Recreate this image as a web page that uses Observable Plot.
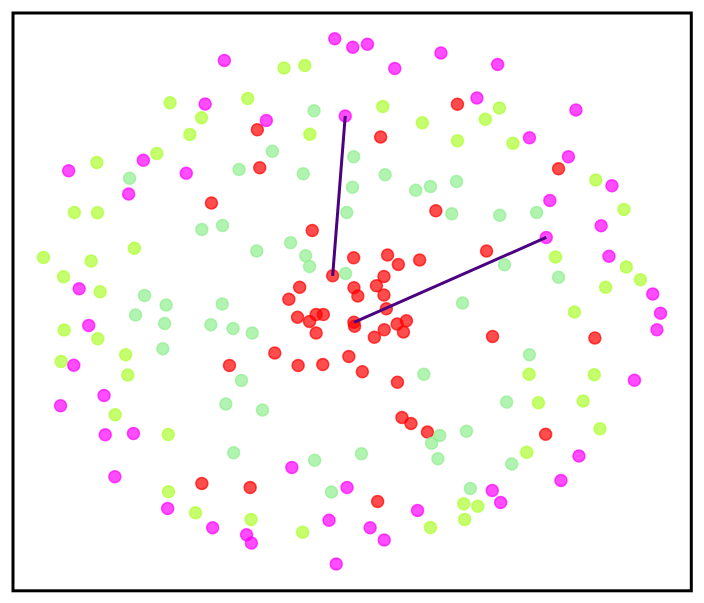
<!DOCTYPE html>
<html>
<head>
<meta charset="utf-8">
<script src="https://cdn.jsdelivr.net/npm/d3@7"></script>
<script src="https://cdn.jsdelivr.net/npm/@observablehq/plot@0.6"></script>
<style>
  html, body { margin: 0; padding: 0; background: #fff; }
  #chart svg { display: block; }
</style>
</head>
<body>
<div id="chart"></div>
<script>
// Class names and colours
const classNames = ["red", "lightgreen", "greenyellow", "magenta"];
const classColors = ["#ff0000", "#90ee90", "#adff2f", "#ff00ff"];

// Points per class: [x, y]
const redX = [-0.469,-0.316,-0.308,0.095,0.351,0.279,-0.133,0.005,0.118,0.154,0.225,-0.065,-0.175,-0.211,0.006,0.019,0.081,0.106,0.106,0.114,0.688,0.448,-0.182,-0.142,-0.120,-0.096,-0.120,0.006,0.008,0.107,0.074,0.150,0.181,0.171,-0.258,-0.409,-0.180,-0.098,-0.011,0.034,0.151,0.166,0.196,0.251,-0.340,0.085,0.468,0.809,0.645,-0.501];
const redY = [0.330,0.574,0.447,0.550,0.659,0.304,0.238,0.147,0.156,0.125,0.140,0.087,0.049,0.009,0.047,0.020,0.054,0.085,0.023,-0.023,0.444,0.170,-0.051,-0.065,-0.042,-0.042,-0.104,-0.068,-0.081,-0.093,-0.118,-0.074,-0.063,-0.100,-0.170,-0.212,-0.212,-0.209,-0.182,-0.233,-0.268,-0.385,-0.405,-0.434,-0.619,-0.665,-0.115,-0.120,-0.441,-0.605];

const lightgreenX = [-0.742,-0.377,-0.501,-0.432,-0.692,-0.620,-0.433,-0.127,-0.266,-0.163,0.005,0.001,0.110,0.212,0.261,0.348,-0.018,0.332,-0.318,-0.205,-0.155,-0.142,-0.022,0.368,0.492,0.615,0.508,0.688,0.591,0.515,0.381,0.532,0.394,-0.722,-0.625,-0.471,-0.397,-0.631,-0.369,-0.421,-0.395,-0.333,-0.299,-0.125,0.031,-0.069,0.239,0.292,0.265,0.286];
const lightgreenY = [0.412,0.441,0.241,0.255,0.021,-0.010,-0.007,0.637,0.502,0.427,0.484,0.382,0.424,0.372,0.385,0.401,0.298,0.294,0.170,0.197,0.154,0.118,0.095,-0.004,0.289,0.298,0.124,0.082,-0.176,-0.334,-0.431,-0.540,-0.622,-0.044,-0.072,-0.076,-0.089,-0.156,-0.262,-0.340,-0.503,-0.104,-0.360,-0.528,-0.506,-0.634,-0.241,-0.445,-0.471,-0.523];

const greenyellowX = [-0.607,-0.502,-0.541,-0.651,-0.851,-0.926,-0.849,-0.726,-1.029,-0.870,-0.962,-0.840,-0.227,-0.158,-0.348,0.102,-0.141,0.234,0.351,0.491,0.444,0.536,0.812,0.906,0.678,0.914,0.961,0.845,0.741,0.590,0.807,0.621,0.770,0.826,0.582,0.372,0.419,0.375,-0.960,-0.848,-0.970,-0.755,-0.748,-0.790,-0.613,-0.612,-0.522,-0.337,-0.165,0.261];
const greenyellowY = [0.664,0.614,0.558,0.495,0.465,0.298,0.297,0.179,0.148,0.136,0.084,0.034,0.780,0.788,0.678,0.651,0.559,0.597,0.537,0.646,0.609,0.529,0.406,0.308,0.150,0.116,0.074,0.049,-0.034,-0.241,-0.243,-0.336,-0.330,-0.423,-0.501,-0.673,-0.681,-0.725,-0.094,-0.123,-0.199,-0.176,-0.244,-0.376,-0.442,-0.633,-0.703,-0.725,-0.768,-0.752];

const magentaX = [-0.058,0.002,0.051,-0.426,0.296,0.142,0.485,-0.490,-0.286,-0.023,0.416,0.746,0.591,-0.696,-0.945,-0.553,-0.745,0.721,0.866,0.659,0.830,0.647,0.856,-0.910,1.002,1.028,1.016,-0.878,-0.928,0.941,-0.972,-0.827,-0.823,-0.729,0.756,0.696,-0.201,-0.017,0.467,0.495,-0.791,-0.615,-0.465,-0.077,0.218,0.060,0.107,-0.352,-0.336,-0.053];
const magentaY = [0.877,0.849,0.859,0.805,0.830,0.778,0.791,0.660,0.605,0.620,0.680,0.640,0.547,0.472,0.437,0.429,0.360,0.484,0.387,0.338,0.254,0.215,0.152,0.044,0.026,-0.038,-0.093,-0.079,-0.211,-0.261,-0.346,-0.312,-0.443,-0.439,-0.514,-0.595,-0.552,-0.619,-0.629,-0.669,-0.583,-0.689,-0.753,-0.728,-0.695,-0.753,-0.794,-0.776,-0.804,-0.874];

// Neighbour links: [fromClass, fromIndex, toClass, toIndex]
const links = [
  ["red", 11, "magenta", 9],
  ["red", 27, "magenta", 21]
];

const xDomain = [-1.1305, 1.1305];
const yDomain = [-0.963, 0.963];

const series = {
  red: [redX, redY],
  lightgreen: [lightgreenX, lightgreenY],
  greenyellow: [greenyellowX, greenyellowY],
  magenta: [magentaX, magentaY]
};

const points = [];
for (const name of classNames) {
  const [xs, ys] = series[name];
  xs.forEach((x, i) => points.push({x, y: ys[i], cls: name}));
}

const segments = links.map(([c1, i1, c2, i2]) => ({
  x1: series[c1][0][i1], y1: series[c1][1][i1],
  x2: series[c2][0][i2], y2: series[c2][1][i2]
}));

const chart = Plot.plot({
  width: 704,
  height: 603,
  marginLeft: 12.5,
  marginTop: 12.5,
  marginRight: 13.2,
  marginBottom: 12.7,
  x: {domain: xDomain, axis: null},
  y: {domain: yDomain, axis: null},
  color: {domain: classNames, range: classColors},
  marks: [
    Plot.dot(points, {
      x: "x", y: "y", r: 6,
      fill: "cls", stroke: "cls",
      fillOpacity: 0.7, strokeOpacity: 0.7, strokeWidth: 1.5
    }),
    Plot.link(segments, {
      x1: "x1", y1: "y1", x2: "x2", y2: "y2",
      stroke: "#4b0082", strokeWidth: 3
    }),
    Plot.frame({stroke: "black", strokeWidth: 3})
  ]
});
document.getElementById("chart").appendChild(chart);
</script>
</body>
</html>
